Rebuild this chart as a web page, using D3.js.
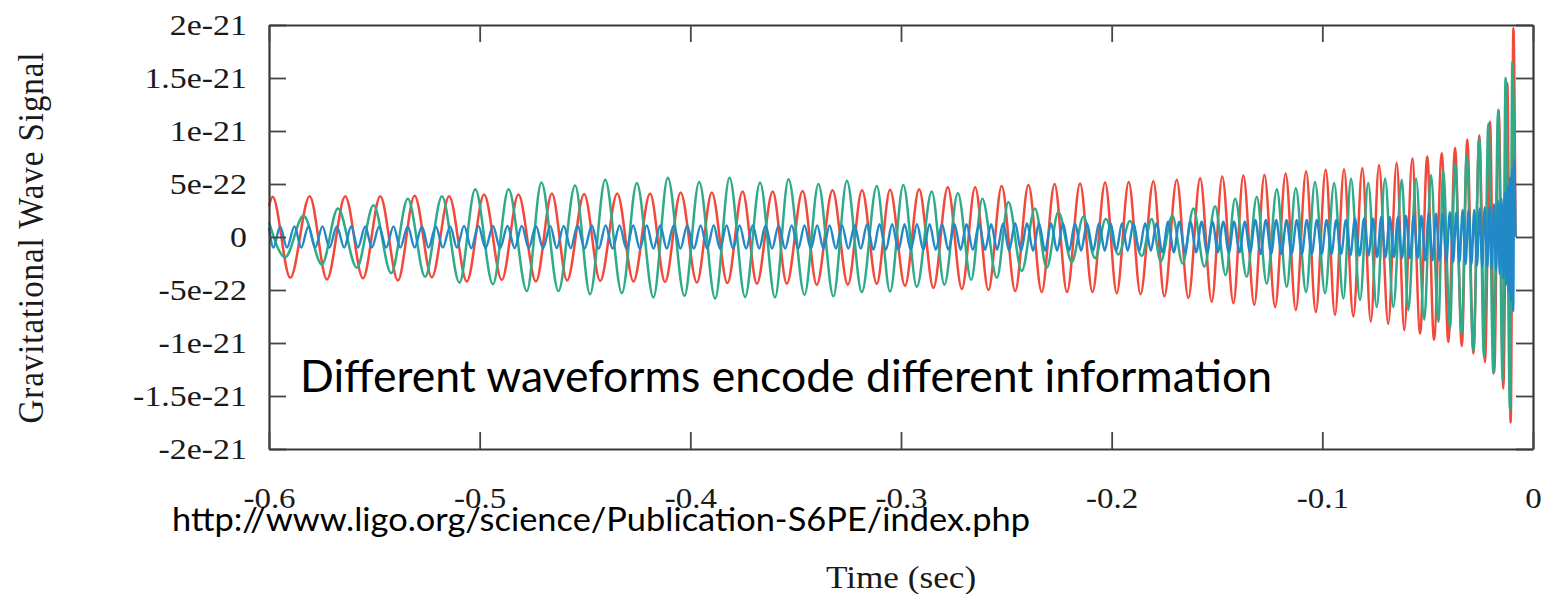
<!DOCTYPE html>
<html>
<head>
<meta charset="utf-8">
<script src="https://cdn.jsdelivr.net/npm/d3@7"></script>
<style>
    body { margin: 0; background: #fff; }
    svg { display: block; }
    .axis path { stroke: #383838; stroke-width: 2.2; }
    .axis line { stroke: #454545; stroke-width: 1.8; }
    .axis text { fill: #1a1a1a; font-family: "Liberation Serif", "DejaVu Serif", serif; }
    .wave { fill: none; stroke-width: 2.5; stroke-linejoin: round; }
    .wave--blue { stroke-width: 2.4; }
</style>
</head>
<body>
<svg></svg>
<script>
// axis ticks
const timeTicks = [-0.6, -0.5, -0.4, -0.3, -0.2, -0.1, 0];
const timeTickLabels = ["-0.6", "-0.5", "-0.4", "-0.3", "-0.2", "-0.1", "0"];
const signalTicks = [2e-21, 1.5e-21, 1e-21, 5e-22, 0, -5e-22, -1e-21, -1.5e-21, -2e-21];
const signalTickLabels = ["2e-21", "1.5e-21", "1e-21", "5e-22", "0", "-5e-22", "-1e-21", "-1.5e-21", "-2e-21"];

// signal values below are in units of 1e-22, read at each crest / trough
const signalUnit = 1e-22;

const redTime = [
    -0.6000, -0.5983, -0.5899, -0.5807, -0.5725, -0.5638, -0.5554, -0.5472, -0.5388, -0.5309,
    -0.5227, -0.5145, -0.5061, -0.4979, -0.4895, -0.4816, -0.4733, -0.4657, -0.4585, -0.4504,
    -0.4428, -0.4347, -0.4270, -0.4191, -0.4120, -0.4046, -0.3969, -0.3898, -0.3824, -0.3752,
    -0.3684, -0.3609, -0.3542, -0.3467, -0.3400, -0.3325, -0.3252, -0.3185, -0.3115, -0.3052,
    -0.2981, -0.2914, -0.2846, -0.2778, -0.2711, -0.2648, -0.2585, -0.2522, -0.2458, -0.2395,
    -0.2332, -0.2271, -0.2212, -0.2150, -0.2091, -0.2031, -0.1976, -0.1919, -0.1863, -0.1802,
    -0.1750, -0.1691, -0.1636, -0.1580, -0.1525, -0.1475, -0.1422, -0.1375, -0.1323, -0.1275,
    -0.1224, -0.1174, -0.1126, -0.1077, -0.1031, -0.0984, -0.0940, -0.0897, -0.0853, -0.0810,
    -0.0770, -0.0731, -0.0687, -0.0647, -0.0611, -0.0573, -0.0536, -0.0502, -0.0470, -0.0433,
    -0.0402, -0.0370, -0.0338, -0.0312, -0.0283, -0.0255, -0.0228, -0.0204, -0.0184, -0.0163,
    -0.0141, -0.0122, -0.0106, -0.0093, -0.0083
];
const redSignal = [
    2.9, 3.8, -3.85, 3.85, -4.0, 3.85, -3.9, 3.85, -4.1, 3.9,
    -3.8, 3.85, -4.2, 4.0, -4.05, 4.0, -4.2, 4.1, -4.1, 4.05,
    -4.15, 4.1, -4.2, 4.1, -4.25, 4.2, -4.3, 4.2, -4.35, 4.3,
    -4.4, 4.3, -4.4, 4.35, -4.5, 4.4, -4.5, 4.4, -4.4, 4.45,
    -4.6, 4.5, -4.8, 4.7, -4.9, 4.7, -5.0, 4.8, -5.1, 4.9,
    -5.2, 5.0, -5.2, 5.05, -5.2, 5.15, -5.3, 5.2, -5.4, 5.25,
    -5.6, 5.4, -5.75, 5.55, -6.1, 5.7, -6.25, 5.8, -6.4, 5.85,
    -6.6, 6.0, -6.9, 6.2, -7.1, 6.35, -7.35, 6.4, -7.5, 6.5,
    -8.0, 6.8, -8.2, 7.0, -8.8, 7.4, -9.1, 7.6, -9.7, 7.9,
    -9.9, 8.4, -10.3, 9.2, -11.0, 9.6, -11.8, 10.9, -12.8, 12.0,
    -14.3, 14.5, -17.5, 19.7, 0
];

const greenTime = [
    -0.6000, -0.5923, -0.5836, -0.5749, -0.5673, -0.5583, -0.5504, -0.5420, -0.5341, -0.5259,
    -0.5179, -0.5096, -0.5021, -0.4937, -0.4863, -0.4776, -0.4707, -0.4626, -0.4547, -0.4476,
    -0.4404, -0.4325, -0.4254, -0.4175, -0.4107, -0.4028, -0.3958, -0.3882, -0.3814, -0.3740,
    -0.3669, -0.3598, -0.3534, -0.3458, -0.3392, -0.3321, -0.3257, -0.3186, -0.3115, -0.3052,
    -0.2989, -0.2925, -0.2854, -0.2794, -0.2730, -0.2667, -0.2614, -0.2545, -0.2490, -0.2427,
    -0.2364, -0.2308, -0.2253, -0.2189, -0.2134, -0.2079, -0.2028, -0.1968, -0.1913, -0.1857,
    -0.1810, -0.1767, -0.1712, -0.1663, -0.1612, -0.1560, -0.1509, -0.1459, -0.1414, -0.1359,
    -0.1311, -0.1264, -0.1216, -0.1169, -0.1126, -0.1077, -0.1035, -0.0987, -0.0944, -0.0900,
    -0.0864, -0.0821, -0.0782, -0.0742, -0.0702, -0.0663, -0.0623, -0.0592, -0.0555, -0.0516,
    -0.0484, -0.0449, -0.0426, -0.0394, -0.0370, -0.0338, -0.0315, -0.0283, -0.0255, -0.0233,
    -0.0212, -0.0188, -0.0165, -0.0144, -0.0130, -0.0109, -0.0098, -0.0085
];
const greenSignal = [
    1.4, -1.9, 2.0, -2.6, 2.7, -2.9, 3.0, -3.4, 3.6, -3.75,
    3.85, -4.3, 4.5, -4.45, 4.5, -5.1, 5.15, -5.1, 4.85, -5.4,
    5.4, -5.3, 5.1, -5.7, 5.6, -5.55, 5.2, -5.8, 5.6, -5.65,
    5.15, -5.7, 5.45, -5.45, 5.0, -5.6, 5.3, -5.2, 4.8, -5.15,
    4.9, -4.7, 4.3, -4.5, 4.15, -4.05, 3.6, -3.85, 3.3, -3.2,
    2.7, -2.9, 2.35, -2.35, 1.9, -2.0, 1.7, -1.65, 1.5, -1.8,
    1.7, -2.3, 2.0, -2.5, 2.7, -2.8, 2.9, -3.6, 3.6, -3.75,
    3.8, -4.4, 4.5, -4.7, 4.6, -5.2, 5.2, -5.3, 5.1, -5.8,
    5.5, -5.95, 5.1, -6.6, 5.5, -6.6, 5.4, -6.9, 5.5, -7.8,
    5.85, -8.0, 6.3, -8.6, 6.9, -9.1, 7.7, -10.7, 9.3, -11.3,
    10.7, -12.9, 12.0, -13.5, 15.0, -16.3, 16.5, 0
];

const blueTime = [
    -0.6000, -0.5979, -0.5947, -0.5915, -0.5879, -0.5847, -0.5813, -0.5781, -0.5746, -0.5713,
    -0.5678, -0.5643, -0.5610, -0.5578, -0.5543, -0.5512, -0.5477, -0.5444, -0.5409, -0.5377,
    -0.5341, -0.5309, -0.5274, -0.5243, -0.5208, -0.5175, -0.5140, -0.5108, -0.5074, -0.5040,
    -0.5006, -0.4972, -0.4937, -0.4903, -0.4868, -0.4834, -0.4800, -0.4767, -0.4733, -0.4699,
    -0.4665, -0.4634, -0.4601, -0.4568, -0.4535, -0.4502, -0.4468, -0.4435, -0.4402, -0.4369,
    -0.4336, -0.4303, -0.4271, -0.4240, -0.4207, -0.4175, -0.4143, -0.4112, -0.4079, -0.4047,
    -0.4015, -0.3983, -0.3951, -0.3920, -0.3889, -0.3859, -0.3828, -0.3797, -0.3766, -0.3735,
    -0.3704, -0.3673, -0.3643, -0.3612, -0.3581, -0.3550, -0.3519, -0.3488, -0.3458, -0.3428,
    -0.3398, -0.3368, -0.3339, -0.3309, -0.3280, -0.3250, -0.3220, -0.3191, -0.3161, -0.3131,
    -0.3102, -0.3072, -0.3042, -0.3012, -0.2983, -0.2954, -0.2924, -0.2894, -0.2864, -0.2835,
    -0.2805, -0.2775, -0.2746, -0.2717, -0.2689, -0.2659, -0.2629, -0.2601, -0.2572, -0.2544,
    -0.2515, -0.2487, -0.2458, -0.2430, -0.2402, -0.2373, -0.2345, -0.2316, -0.2288, -0.2259,
    -0.2231, -0.2202, -0.2174, -0.2145, -0.2117, -0.2088, -0.2060, -0.2033, -0.2005, -0.1978,
    -0.1951, -0.1924, -0.1896, -0.1869, -0.1841, -0.1814, -0.1787, -0.1759, -0.1732, -0.1705,
    -0.1679, -0.1652, -0.1626, -0.1599, -0.1573, -0.1547, -0.1521, -0.1496, -0.1470, -0.1444,
    -0.1419, -0.1393, -0.1368, -0.1343, -0.1318, -0.1293, -0.1268, -0.1243, -0.1219, -0.1194,
    -0.1170, -0.1146, -0.1121, -0.1097, -0.1074, -0.1050, -0.1026, -0.1003, -0.0980, -0.0956,
    -0.0934, -0.0911, -0.0888, -0.0867, -0.0845, -0.0823, -0.0802, -0.0781, -0.0760, -0.0740,
    -0.0720, -0.0700, -0.0680, -0.0660, -0.0641, -0.0622, -0.0603, -0.0584, -0.0566, -0.0548,
    -0.0530, -0.0512, -0.0495, -0.0477, -0.0460, -0.0444, -0.0427, -0.0411, -0.0395, -0.0379,
    -0.0364, -0.0349, -0.0334, -0.0320, -0.0306, -0.0292, -0.0279, -0.0266, -0.0253, -0.0241,
    -0.0229, -0.0217, -0.0206, -0.0196, -0.0185, -0.0176, -0.0166, -0.0158, -0.0149, -0.0141,
    -0.0134, -0.0127, -0.0121, -0.0115, -0.0109, -0.0104, -0.0099, -0.0094, -0.0089, -0.0083
];
const blueSignal = [
    0.9, -1.0, 1.0, -1.0, 1.0, -1.0, 1.0, -1.0, 1.0, -1.0,
    1.0, -1.0, 1.0, -1.0, 1.0, -1.0, 1.0, -1.0, 1.0, -1.0,
    1.0, -1.0, 1.0, -1.0, 1.0, -1.0, 1.0, -1.0, 1.05, -1.05,
    1.05, -1.05, 1.05, -1.05, 1.05, -1.05, 1.05, -1.05, 1.05, -1.05,
    1.05, -1.05, 1.05, -1.05, 1.1, -1.1, 1.1, -1.1, 1.1, -1.1,
    1.1, -1.1, 1.1, -1.1, 1.1, -1.1, 1.1, -1.1, 1.1, -1.1,
    1.1, -1.1, 1.1, -1.1, 1.1, -1.1, 1.1, -1.1, 1.1, -1.1,
    1.1, -1.1, 1.1, -1.1, 1.1, -1.1, 1.1, -1.1, 1.1, -1.1,
    1.1, -1.1, 1.1, -1.1, 1.1, -1.1, 1.1, -1.1, 1.2, -1.2,
    1.2, -1.2, 1.2, -1.2, 1.2, -1.2, 1.2, -1.2, 1.2, -1.2,
    1.2, -1.2, 1.2, -1.2, 1.2, -1.2, 1.2, -1.2, 1.2, -1.2,
    1.3, -1.3, 1.3, -1.3, 1.3, -1.3, 1.3, -1.3, 1.3, -1.3,
    1.3, -1.3, 1.3, -1.3, 1.3, -1.3, 1.3, -1.3, 1.3, -1.3,
    1.3, -1.3, 1.3, -1.3, 1.3, -1.3, 1.3, -1.45, 1.45, -1.45,
    1.45, -1.45, 1.45, -1.45, 1.45, -1.45, 1.45, -1.45, 1.45, -1.45,
    1.45, -1.45, 1.45, -1.45, 1.6, -1.6, 1.6, -1.6, 1.6, -1.6,
    1.6, -1.6, 1.6, -1.6, 1.6, -1.6, 1.6, -1.6, 1.6, -1.6,
    1.6, -1.6, 1.6, -1.75, 1.75, -1.75, 1.75, -1.75, 1.75, -1.9,
    1.9, -1.9, 1.9, -1.9, 1.9, -2.0, 2.0, -2.0, 2.0, -2.0,
    2.0, -2.2, 2.2, -2.2, 2.2, -2.2, 2.2, -2.35, 2.35, -2.35,
    2.35, -2.35, 2.55, -2.55, 2.55, -2.55, 2.55, -2.7, 2.7, -2.8,
    2.8, -2.9, 2.9, -3.0, 3.1, -3.2, 3.4, -3.5, 3.6, -3.9,
    4.2, -4.5, 4.8, -5.2, 5.6, -6.0, 6.5, -7.0, 7.3, 0
];

const seriesNames = ["red", "green", "blue"];
const seriesColors = ["#f3483a", "#2fab8a", "#2289c7"];

(function (window, document) {
    const width = 1545;
    const height = 594;
    const margin = {
        top: 25,
        left: 269,
        bottom: 145,
        right: 12
    };
    const plotWidth = width - margin.left - margin.right;
    const plotHeight = height - margin.top - margin.bottom;

    let svg = d3.select("svg")
        .attr("width", width)
        .attr("height", height);

    let x = d3.scaleLinear()
        .domain([-0.6, 0])
        .range([0, plotWidth]);

    let y = d3.scaleLinear()
        .domain([-2e-21, 2e-21])
        .range([plotHeight, 0]);

    let plot = svg.append("g")
        .attr("transform", `translate(${margin.left}, ${margin.top})`);

    let line = d3.line()
        .x(d => x(d[0]))
        .y(d => y(d[1] * signalUnit))
        .curve(d3.curveMonotoneX);

    let series = [
        d3.zip(redTime, redSignal),
        d3.zip(greenTime, greenSignal),
        d3.zip(blueTime, blueSignal)
    ];

    plot.selectAll(".wave")
        .data(series)
        .enter()
        .append("path")
        .attr("class", (d, i) => "wave wave--" + seriesNames[i])
        .attr("stroke", (d, i) => seriesColors[i])
        .attr("d", line);

    // frame: four axes with inward ticks
    let yAxis = plot.append("g")
        .attr("class", "axis axis--y")
        .call(d3.axisLeft(y)
            .tickValues(signalTicks)
            .tickFormat((d, i) => signalTickLabels[i])
            .tickSize(-17)
            .tickSizeOuter(0)
            .tickPadding(19.5));

    yAxis.selectAll("text")
        .attr("font-size", 30)
        .attr("transform", "scale(1.13, 1)");

    plot.append("g")
        .attr("class", "axis axis--y2")
        .attr("transform", `translate(${plotWidth}, 0)`)
        .call(d3.axisRight(y)
            .tickValues(signalTicks)
            .tickFormat("")
            .tickSize(-17)
            .tickSizeOuter(0));

    let xAxis = plot.append("g")
        .attr("class", "axis axis--x")
        .attr("transform", `translate(0, ${plotHeight})`)
        .call(d3.axisBottom(x)
            .tickValues(timeTicks)
            .tickFormat((d, i) => timeTickLabels[i])
            .tickSize(-17)
            .tickSizeOuter(0)
            .tickPadding(38));

    xAxis.selectAll("text")
        .attr("font-size", 30)
        .attr("transform", "scale(1.1, 1)");

    plot.append("g")
        .attr("class", "axis axis--x2")
        .call(d3.axisTop(x)
            .tickValues(timeTicks)
            .tickFormat("")
            .tickSize(-17)
            .tickSizeOuter(0));

    svg.selectAll(".axis").attr("fill", null);

    // axis titles
    svg.append("text")
        .attr("transform", "translate(43, 238) scale(1.1, 1) rotate(-90)")
        .attr("text-anchor", "middle")
        .attr("textLength", 371)
        .attr("font-family", "Liberation Serif, serif")
        .attr("font-size", 33)
        .attr("fill", "#1a1a1a")
        .text("Gravitational Wave Signal");

    svg.append("text")
        .attr("transform", `translate(${margin.left + plotWidth / 2}, 588) scale(1.1, 1)`)
        .attr("text-anchor", "middle")
        .attr("font-family", "Liberation Serif, serif")
        .attr("font-size", 32)
        .attr("fill", "#1a1a1a")
        .text("Time (sec)");

    // slide annotations laid over the chart
    svg.append("text")
        .attr("x", 300)
        .attr("y", 392)
        .attr("textLength", 972)
        .attr("lengthAdjust", "spacingAndGlyphs")
        .attr("font-family", "Lato, 'Open Sans', sans-serif")
        .attr("font-size", 44)
        .attr("fill", "#000")
        .text("Different waveforms encode different information");

    svg.append("text")
        .attr("x", 172)
        .attr("y", 531)
        .attr("textLength", 858)
        .attr("lengthAdjust", "spacingAndGlyphs")
        .attr("font-family", "Lato, 'Open Sans', sans-serif")
        .attr("font-size", 33)
        .attr("fill", "#000")
        .text("http://www.ligo.org/science/Publication-S6PE/index.php");
})(window, document);
</script>
</body>
</html>
